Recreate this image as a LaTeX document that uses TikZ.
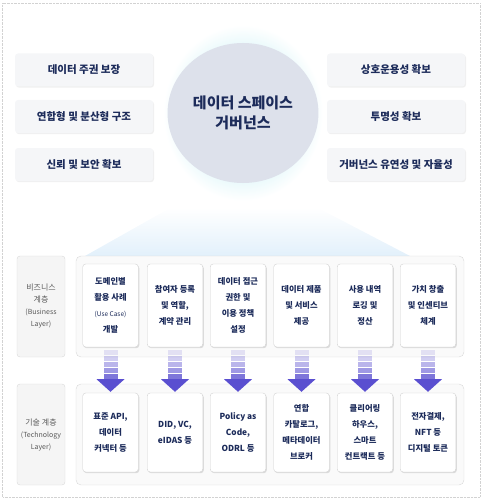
\documentclass[tikz,border=0pt]{standalone}
\usepackage{fontspec}
\setmainfont{Noto Sans CJK KR}
\usetikzlibrary{shapes.geometric,shadows,calc}

\definecolor{navy}{HTML}{1C2B5A}
\definecolor{goalfill}{HTML}{F5F6F8}
\definecolor{hubfill}{HTML}{DDE1EB}
\definecolor{glowc}{HTML}{E8F9FB}
\definecolor{trapblue}{HTML}{E2F0FB}
\definecolor{labelgray}{HTML}{5A5A5A}
\definecolor{arrowc}{HTML}{5A4FD0}

\pgfdeclareradialshading{hubglow}{\pgfpoint{0bp}{0bp}}{color(0bp)=(glowc); color(19bp)=(glowc); color(25bp)=(white); color(50bp)=(white)}

\tikzset{
  goal/.style={fill=goalfill, rounded corners=3pt, minimum width=138pt, minimum height=33pt,
    text=navy, font=\bfseries\fontsize{10.5}{12}\selectfont,
    drop shadow={shadow xshift=1pt, shadow yshift=-1.2pt, opacity=0.12}},
  layerbox/.style={draw=gray!30, fill=gray!4, rounded corners=5pt, minimum width=388pt, minimum height=101pt},
  layerlabel/.style={draw=gray!30, fill=gray!8, rounded corners=3pt, minimum width=48pt, minimum height=101pt,
    align=center, text=labelgray, font=\fontsize{8}{12}\selectfont},
  card/.style={draw=gray!35, fill=white, rounded corners=3pt, minimum width=55.5pt, minimum height=83pt,
    inner sep=1pt, align=center, text=navy, font=\bfseries\fontsize{8.3}{16}\selectfont,
    drop shadow={shadow xshift=1pt, shadow yshift=-1.2pt, opacity=0.25}},
  techcard/.style={card, minimum height=79pt},
  small/.style={font=\fontsize{6.5}{10}\selectfont}
}

\begin{document}
\begin{tikzpicture}[x=1pt,y=-1pt]
  \useasboundingbox (0,0) rectangle (483,500);
  \draw[gray!35, densely dotted] (2.5,3.5) rectangle (480,497);

  \shade[shading=hubglow] (243,113) ellipse [x radius=80pt, y radius=88pt];
  \node[ellipse, fill=hubfill, minimum width=128pt, minimum height=140pt, align=center,
    text=navy, font=\bfseries\fontsize{15}{20}\selectfont] (hub) at (243,113) {데이터 스페이스\\거버넌스};

  \node[goal] (l1) at (84,70) {데이터 주권 보장};
  \node[goal] (l2) at (84,116.5) {연합형 및 분산형 구조};
  \node[goal] (l3) at (84,164.5) {신뢰 및 보안 확보};
  \node[goal] (r1) at (396,70) {상호운용성 확보};
  \node[goal] (r2) at (396,116.5) {투명성 확보};
  \node[goal] (r3) at (396,164.5) {거버넌스 유연성 및 자율성};

  \shade[top color=white, bottom color=trapblue] (170,208) -- (318,208) -- (410,256) -- (85,256) -- cycle;

  \node[layerlabel] (blabel) at (41,306.5) {비즈니스\\계층\\{\fontsize{7}{11}\selectfont(Business}\\{\fontsize{7}{11}\selectfont Layer)}};
  \node[layerbox] (bbox) at (270,306.5) {};
  \node[layerlabel] (tlabel) at (41,434.5) {기술 계층\\{\fontsize{7}{11}\selectfont(Technology}\\{\fontsize{7}{11}\selectfont Layer)}};
  \node[layerbox] (tbox) at (270,434.5) {};

  \node[card] (b1) at (110.5,305.5) {도메인별\\활용 사례\\{\mdseries\fontsize{6.5}{16}\selectfont(Use Case)}\\개발};
  \node[card] (b2) at (175,305.5) {참여자 등록\\및 역할,\\계약 관리};
  \node[card] (b3) at (238,305.5) {데이터 접근\\권한 및\\이용 정책\\설정};
  \node[card] (b4) at (301.5,305.5) {데이터 제품\\및 서비스\\제공};
  \node[card] (b5) at (365,305.5) {사용 내역\\로깅 및\\정산};
  \node[card] (b6) at (428,305.5) {가치 창출\\및 인센티브\\체계};

  \node[techcard] (t1) at (110.5,432.5) {표준 API,\\데이터\\커넥터 등};
  \node[techcard] (t2) at (175,432.5) {DID, VC,\\eIDAS 등};
  \node[techcard] (t3) at (238,432.5) {Policy as\\Code,\\ODRL 등};
  \node[techcard] (t4) at (301.5,432.5) {연합\\카탈로그,\\메타데이터\\브로커};
  \node[techcard] (t5) at (365,432.5) {클리어링\\하우스,\\스마트\\컨트랙트 등};
  \node[techcard] (t6) at (428,432.5) {전자결제,\\NFT 등\\디지털 토큰};

  \foreach \i in {1,...,6}{
    \foreach \k/\op in {0/0.15,1/0.28,2/0.42,3/0.58,4/0.78}
      \fill[arrowc, opacity=\op] ($(b\i.south)+(-7,3+6*\k)$) rectangle ($(b\i.south)+(7,7.5+6*\k)$);
    \fill[arrowc] ($(b\i.south)+(-14,32)$) -- ($(b\i.south)+(14,32)$) -- ($(t\i.north)+(0,-1)$) -- cycle;
  }
\end{tikzpicture}
\end{document}
